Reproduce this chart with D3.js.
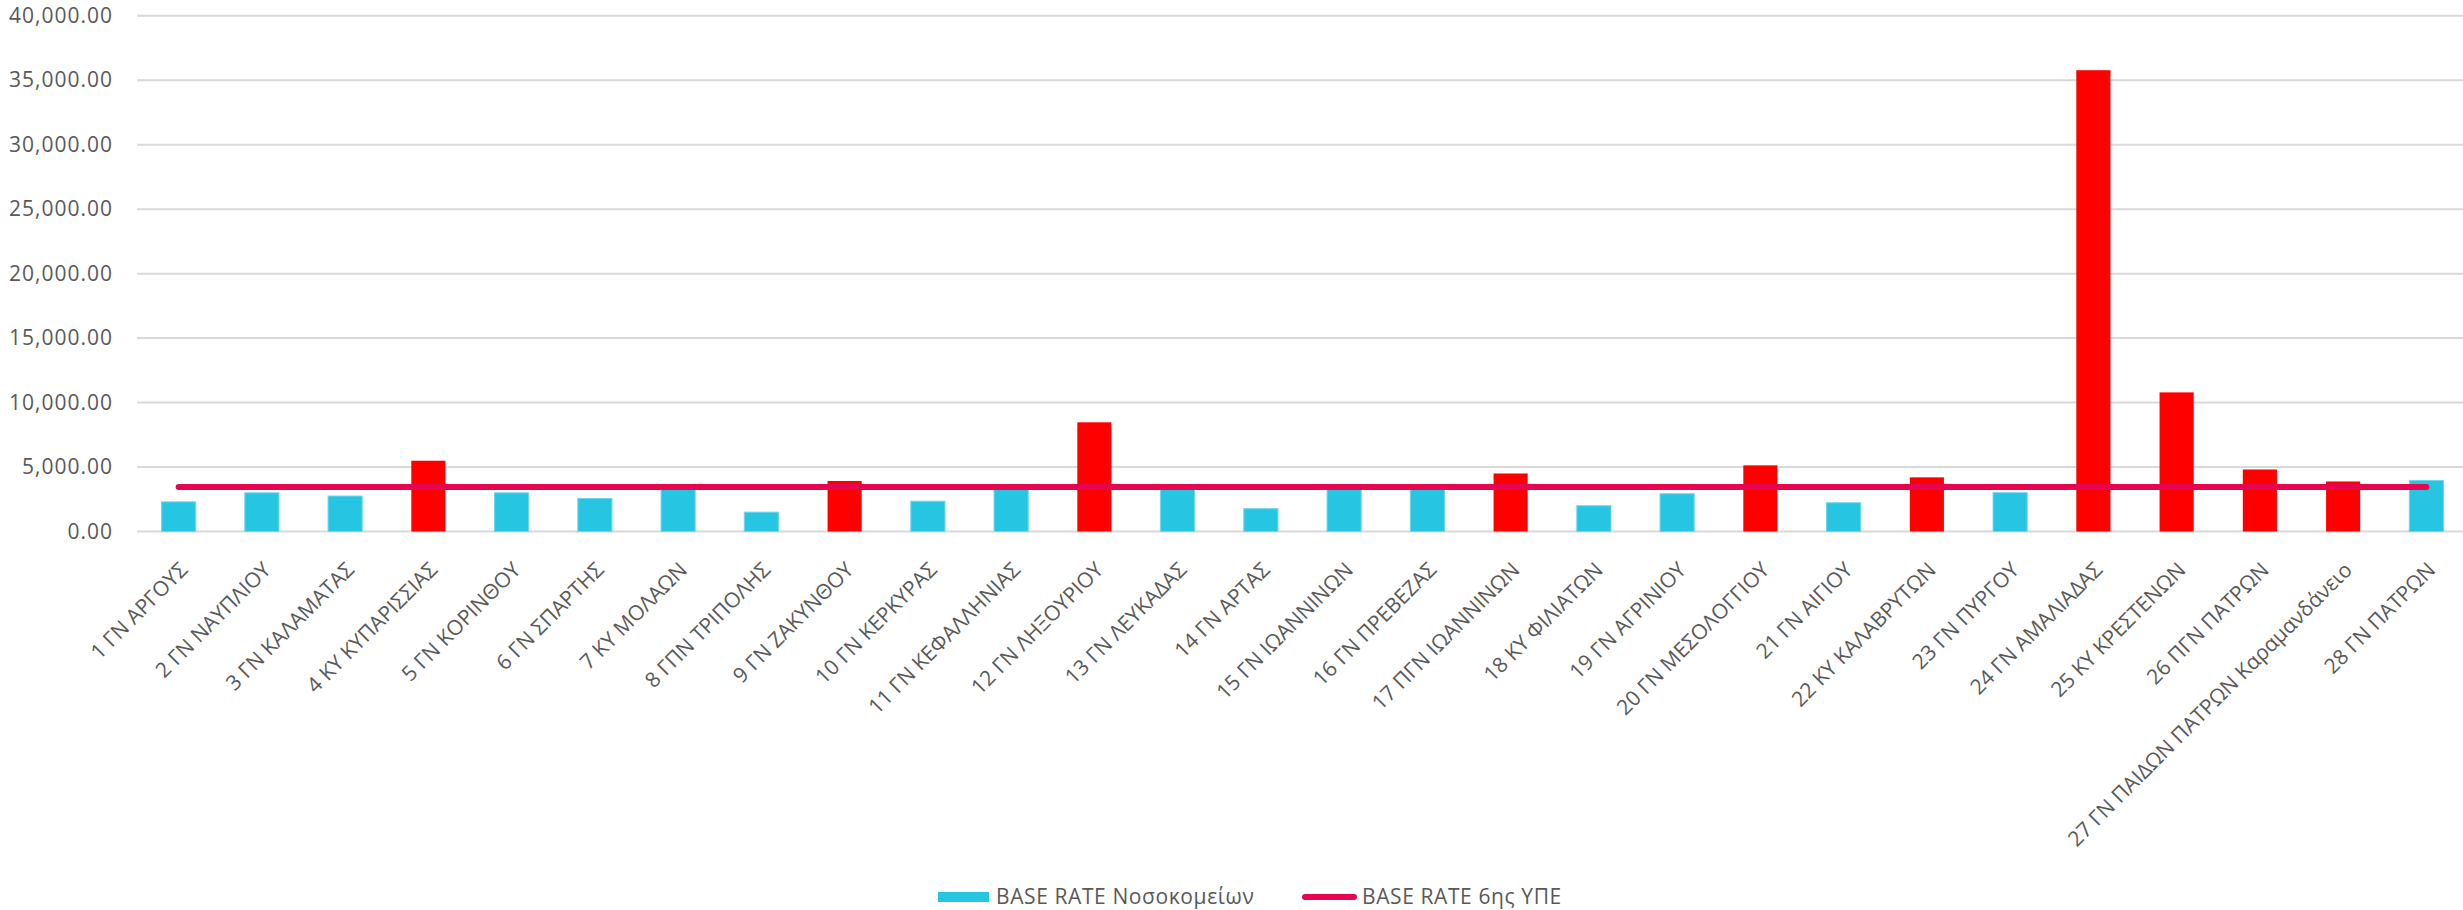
<!DOCTYPE html>
<html><head><meta charset="utf-8">
<script src="https://cdn.jsdelivr.net/npm/d3@7"></script>
<style>
html,body{margin:0;padding:0;background:#fff;}
svg{display:block;font-family:"Open Sans",sans-serif;}
</style></head>
<body>
<svg id="chart" width="2463" height="910"></svg>
<script>
const categories = [
  "1 ΓΝ ΑΡΓΟΥΣ","2 ΓΝ ΝΑΥΠΛΙΟΥ","3 ΓΝ ΚΑΛΑΜΑΤΑΣ","4 ΚΥ ΚΥΠΑΡΙΣΣΙΑΣ","5 ΓΝ ΚΟΡΙΝΘΟΥ",
  "6 ΓΝ ΣΠΑΡΤΗΣ","7 ΚΥ ΜΟΛΑΩΝ","8 ΓΠΝ ΤΡΙΠΟΛΗΣ","9 ΓΝ ΖΑΚΥΝΘΟΥ","10 ΓΝ ΚΕΡΚΥΡΑΣ",
  "11 ΓΝ ΚΕΦΑΛΛΗΝΙΑΣ","12 ΓΝ ΛΗΞΟΥΡΙΟΥ","13 ΓΝ ΛΕΥΚΑΔΑΣ","14 ΓΝ ΑΡΤΑΣ","15 ΓΝ ΙΩΑΝΝΙΝΩΝ",
  "16 ΓΝ ΠΡΕΒΕΖΑΣ","17 ΠΓΝ ΙΩΑΝΝΙΝΩΝ","18 ΚΥ ΦΙΛΙΑΤΩΝ","19 ΓΝ ΑΓΡΙΝΙΟΥ","20 ΓΝ ΜΕΣΟΛΟΓΓΙΟΥ",
  "21 ΓΝ ΑΙΓΙΟΥ","22 ΚΥ ΚΑΛΑΒΡΥΤΩΝ","23 ΓΝ ΠΥΡΓΟΥ","24 ΓΝ ΑΜΑΛΙΑΔΑΣ","25 ΚΥ ΚΡΕΣΤΕΝΩΝ",
  "26 ΠΓΝ ΠΑΤΡΩΝ","27 ΓΝ ΠΑΙΔΩΝ ΠΑΤΡΩΝ Καραμανδάνειο","28 ΓΝ ΠΑΤΡΩΝ"
];
const hospitalRates = [
  2300, 3000, 2750, 5490, 3000,
  2560, 3400, 1500, 3920, 2350,
  3420, 8470, 3400, 1770, 3420,
  3420, 4500, 2000, 2930, 5130,
  2230, 4200, 3010, 35780, 10790,
  4810, 3880, 3960
];
const aboveFlags = [
  0,0,0,1,0, 0,0,0,1,0, 0,1,0,0,0, 0,1,0,0,1, 0,1,0,1,1, 1,1,0
];
const regionRates = [
  3450,3450,3450,3450,3450,3450,3450,3450,3450,3450,3450,3450,3450,3450,
  3450,3450,3450,3450,3450,3450,3450,3450,3450,3450,3450,3450,3450,3450
];
const yTicks = [0,5000,10000,15000,20000,25000,30000,35000,40000];
const seriesNames = ["BASE RATE Νοσοκομείων","BASE RATE 6ης ΥΠΕ"];

const svg = d3.select("#chart");
const blue = "#26C6E2", red = "#FF0000", lineCol = "#E6064F", textCol = "#595959";

const x = d3.scaleBand().domain(categories).range([137, 2468]).padding(0);
const y = d3.scaleLinear().domain([0, 40000]).range([531.5, 15.8]);

// gridlines
svg.append("g").selectAll("line").data(yTicks).join("line")
  .attr("x1", 137).attr("x2", 2463)
  .attr("y1", d => y(d)).attr("y2", d => y(d))
  .attr("stroke", "#D9D9D9").attr("stroke-width", 2);

// y axis labels
const yAxis = d3.axisLeft(y).tickValues(yTicks).tickSize(0).tickPadding(0)
  .tickFormat(d3.format(",.2f"));
const ya = svg.append("g").attr("transform", "translate(113,0)").call(yAxis);
ya.select(".domain").remove();
ya.selectAll("text").attr("fill", textCol).style("font-size", "21px")
  .style("letter-spacing", "1px")
  .style("font-family", "'Open Sans',sans-serif");

// bars
const bw = x.bandwidth() * 0.41;
svg.append("g").selectAll("rect").data(hospitalRates).join("rect")
  .attr("x", (d, i) => x(categories[i]) + x.bandwidth() / 2 - bw / 2)
  .attr("width", bw)
  .attr("y", d => y(d))
  .attr("height", d => y(0) - y(d))
  .attr("fill", (d, i) => aboveFlags[i] ? red : blue)
  .attr("stroke", (d, i) => aboveFlags[i] ? "none" : "#6FD6EC")
  .attr("stroke-width", 1);

// line
const line = d3.line()
  .x((d, i) => x(categories[i]) + x.bandwidth() / 2)
  .y(d => y(d));
svg.append("path").datum(regionRates)
  .attr("d", line).attr("fill", "none")
  .attr("stroke", lineCol).attr("stroke-width", 6)
  .attr("stroke-linecap", "round");

// x labels
svg.append("g").selectAll("text").data(categories).join("text")
  .attr("transform", d => `translate(${x(d) + x.bandwidth() / 2 + 5},566) rotate(-45)`)
  .attr("text-anchor", "end").attr("dy", "0.35em")
  .attr("fill", textCol).style("font-size", "21px")
  .text(d => d);

// legend
const lg = svg.append("g");
lg.append("rect").attr("x", 938).attr("y", 892).attr("width", 51).attr("height", 10).attr("fill", blue);
lg.append("text").attr("x", 996).attr("y", 897).attr("dy", "0.35em")
  .attr("fill", textCol).style("font-size", "21px").style("letter-spacing", "0.6px").text(seriesNames[0]);
lg.append("line").attr("x1", 1305).attr("x2", 1354).attr("y1", 897).attr("y2", 897)
  .attr("stroke", lineCol).attr("stroke-width", 6).attr("stroke-linecap", "round");
lg.append("text").attr("x", 1362).attr("y", 897).attr("dy", "0.35em")
  .attr("fill", textCol).style("font-size", "21px").style("letter-spacing", "0.6px").text(seriesNames[1]);
</script>
</body></html>
